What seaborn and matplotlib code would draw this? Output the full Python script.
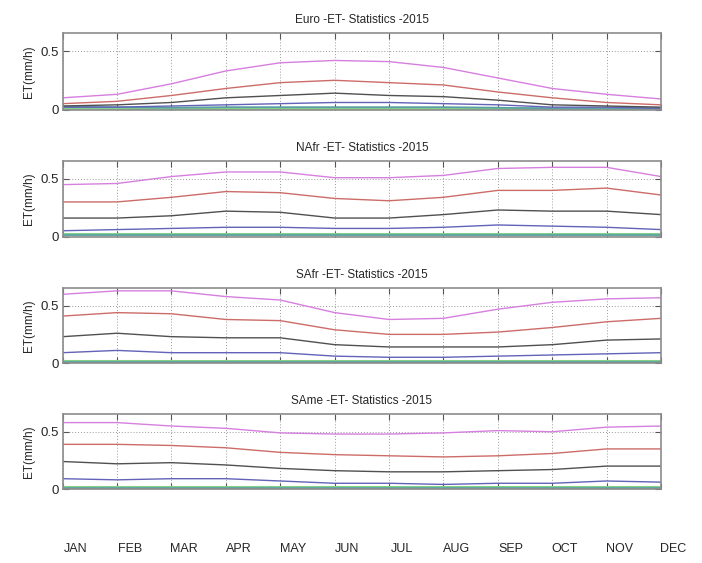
import matplotlib
matplotlib.use("Agg")
import matplotlib.pyplot as plt
import seaborn as sns
import pandas as pd
import numpy as np

sns.set_style("white")
plt.rcParams['font.family'] = ['Liberation Sans', 'DejaVu Sans']

months = ["JAN", "FEB", "MAR", "APR", "MAY", "JUN", "JUL", "AUG", "SEP", "OCT", "NOV", "DEC"]
month_num = list(range(1, 13))
regions = ["Euro", "NAfr", "SAfr", "SAme"]
series_names = ["s1", "s2", "s3", "s4", "s5", "s6"]

euro_s1 = [0.10, 0.13, 0.22, 0.33, 0.40, 0.42, 0.41, 0.36, 0.27, 0.18, 0.13, 0.09]
euro_s2 = [0.05, 0.07, 0.12, 0.18, 0.23, 0.25, 0.23, 0.21, 0.15, 0.10, 0.06, 0.04]
euro_s3 = [0.03, 0.04, 0.06, 0.10, 0.12, 0.14, 0.12, 0.11, 0.08, 0.04, 0.03, 0.02]
euro_s4 = [0.02, 0.02, 0.03, 0.04, 0.05, 0.06, 0.06, 0.05, 0.04, 0.02, 0.02, 0.01]
euro_s5 = [0.025, 0.02, 0.015, 0.02, 0.02, 0.02, 0.02, 0.02, 0.015, 0.01, 0.01, 0.01]
euro_s6 = [0.005, 0.005, 0.01, 0.01, 0.01, 0.01, 0.01, 0.01, 0.01, 0.005, 0.005, 0.005]

nafr_s1 = [0.45, 0.46, 0.52, 0.56, 0.56, 0.51, 0.51, 0.53, 0.59, 0.60, 0.60, 0.52]
nafr_s2 = [0.30, 0.30, 0.34, 0.39, 0.38, 0.33, 0.31, 0.34, 0.40, 0.40, 0.42, 0.36]
nafr_s3 = [0.16, 0.16, 0.18, 0.22, 0.21, 0.16, 0.16, 0.19, 0.23, 0.22, 0.22, 0.19]
nafr_s4 = [0.05, 0.06, 0.07, 0.08, 0.08, 0.07, 0.07, 0.08, 0.10, 0.09, 0.08, 0.06]
nafr_s5 = [0.01, 0.01, 0.01, 0.01, 0.01, 0.01, 0.01, 0.01, 0.01, 0.01, 0.01, 0.01]
nafr_s6 = [0.02, 0.02, 0.02, 0.02, 0.02, 0.02, 0.02, 0.02, 0.02, 0.02, 0.02, 0.02]

safr_s1 = [0.60, 0.63, 0.63, 0.58, 0.55, 0.44, 0.38, 0.39, 0.47, 0.53, 0.56, 0.57]
safr_s2 = [0.41, 0.44, 0.43, 0.38, 0.37, 0.29, 0.25, 0.25, 0.27, 0.31, 0.36, 0.39]
safr_s3 = [0.23, 0.26, 0.23, 0.22, 0.22, 0.16, 0.14, 0.14, 0.14, 0.16, 0.20, 0.21]
safr_s4 = [0.09, 0.11, 0.09, 0.09, 0.09, 0.06, 0.05, 0.05, 0.06, 0.07, 0.08, 0.09]
safr_s5 = [0.01, 0.01, 0.01, 0.01, 0.01, 0.01, 0.01, 0.01, 0.01, 0.01, 0.01, 0.01]
safr_s6 = [0.02, 0.02, 0.02, 0.02, 0.02, 0.02, 0.02, 0.02, 0.02, 0.02, 0.02, 0.02]

same_s1 = [0.58, 0.58, 0.55, 0.53, 0.49, 0.48, 0.48, 0.49, 0.51, 0.50, 0.54, 0.55]
same_s2 = [0.39, 0.39, 0.38, 0.36, 0.32, 0.30, 0.29, 0.28, 0.29, 0.31, 0.35, 0.35]
same_s3 = [0.24, 0.22, 0.23, 0.21, 0.18, 0.16, 0.15, 0.15, 0.16, 0.17, 0.20, 0.20]
same_s4 = [0.09, 0.08, 0.09, 0.09, 0.07, 0.05, 0.05, 0.04, 0.05, 0.05, 0.07, 0.06]
same_s5 = [0.01, 0.01, 0.01, 0.01, 0.01, 0.01, 0.01, 0.01, 0.01, 0.01, 0.01, 0.01]
same_s6 = [0.02, 0.02, 0.02, 0.02, 0.02, 0.02, 0.02, 0.02, 0.02, 0.02, 0.02, 0.02]

data = {
    "Euro": [euro_s1, euro_s2, euro_s3, euro_s4, euro_s5, euro_s6],
    "NAfr": [nafr_s1, nafr_s2, nafr_s3, nafr_s4, nafr_s5, nafr_s6],
    "SAfr": [safr_s1, safr_s2, safr_s3, safr_s4, safr_s5, safr_s6],
    "SAme": [same_s1, same_s2, same_s3, same_s4, same_s5, same_s6],
}

palette = {"s1": "#d67fde", "s2": "#cc6c68", "s3": "#505050",
           "s4": "#6262b8", "s5": "#5a9fa8", "s6": "#86cf86"}
widths = {"s1": 1.0, "s2": 1.0, "s3": 1.0, "s4": 1.0, "s5": 1.2, "s6": 2.2}

rows = []
for reg in regions:
    for name, vals in zip(series_names, data[reg]):
        for m, v in zip(month_num, vals):
            rows.append({"region": reg, "series": name, "month": m, "ET": v})
df = pd.DataFrame(rows)

fig = plt.figure(figsize=(7.02, 5.63), dpi=100)
W, H = 702.0, 563.0
left_px, right_px = 62.7, 661.0
tops = [33, 161, 288, 414]
bottoms = [109.5, 236.5, 363, 489]

frame_col = "#8c8c8c"
draw_order = series_names[::-1]
for reg, t, b in zip(regions, tops, bottoms):
    ax = fig.add_axes([left_px / W, 1 - b / H, (right_px - left_px) / W, (b - t) / H])
    sub = df[df["region"] == reg]
    sns.lineplot(data=sub, x="month", y="ET", hue="series", palette=palette,
                 hue_order=draw_order, ax=ax, legend=False, linewidth=1.0)
    for line, name in zip(ax.lines, draw_order):
        line.set_linewidth(widths[name])
    ax.set_xlim(1, 12)
    ax.set_ylim(0, 0.655)
    ax.set_xticks(month_num)
    ax.set_xticklabels([])
    ax.set_yticks([0, 0.5])
    ax.set_yticklabels(["0", "0.5"], fontsize=9.5)
    ax.set_xlabel("")
    ax.set_ylabel("ET(mm/h)", fontsize=8.5, labelpad=4)
    ax.set_title(f"{reg} -ET- Statistics -2015", fontsize=8.5, pad=7)
    ax.grid(True, color="#9a9a9a", linestyle=(0, (1, 2)), linewidth=0.7)
    ax.tick_params(axis="both", direction="in", length=4, width=0.8, color="#555555",
                   top=True, right=True, bottom=True, left=True, pad=3)
    for s in ax.spines.values():
        s.set_color(frame_col)
        s.set_linewidth(1.2)

# month labels row
lab_ax = fig.add_axes([(left_px + 12.6) / W, 1 - 540 / H, (right_px - left_px) / W, 0.001])
lab_ax.set_xlim(1, 12)
lab_ax.set_xticks(month_num)
lab_ax.set_xticklabels(months, fontsize=9)
lab_ax.set_yticks([])
lab_ax.tick_params(axis="x", length=0, pad=2)
for s in lab_ax.spines.values():
    s.set_visible(False)
lab_ax.patch.set_visible(False)

fig.savefig("out.png", dpi=100)
